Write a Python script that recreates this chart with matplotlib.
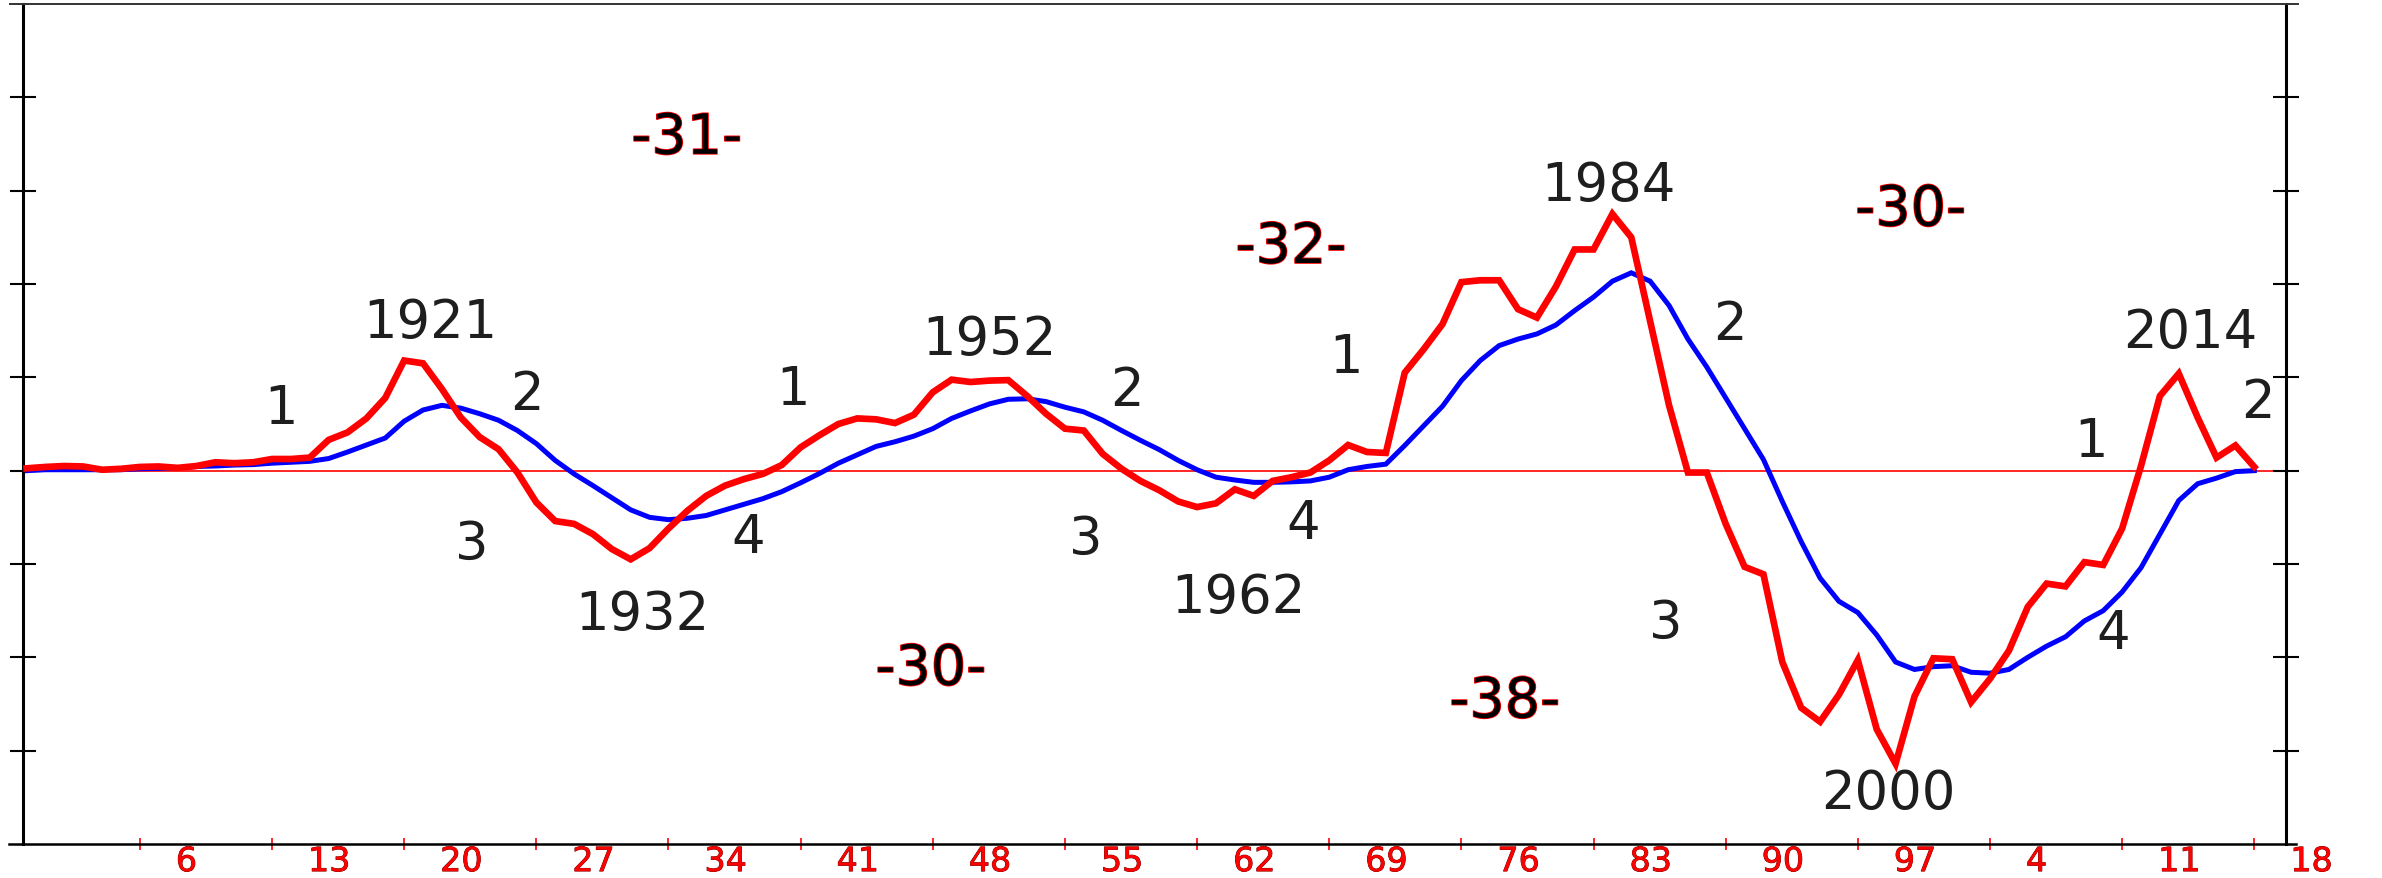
import matplotlib
matplotlib.use("Agg")
import matplotlib.pyplot as plt
import matplotlib.patheffects as pe
from matplotlib.transforms import ScaledTranslation
from matplotlib.lines import Line2D

years = list(range(1900, 2019))

red_series = [
    0.025, 0.04, 0.05, 0.045, 0.01, 0.02, 0.04, 0.045, 0.03, 0.05,      # 1900-1909
    0.09, 0.08, 0.09, 0.125, 0.125, 0.14, 0.33, 0.41, 0.56, 0.78,       # 1910-1919
    1.18, 1.15, 0.875, 0.57, 0.36, 0.23, -0.02, -0.34, -0.54, -0.57,    # 1920-1929
    -0.68, -0.84, -0.95, -0.83, -0.62, -0.43, -0.27, -0.16, -0.09, -0.035,  # 1930-1939
    0.06, 0.25, 0.38, 0.50, 0.56, 0.55, 0.51, 0.60, 0.84, 0.975,        # 1940-1949
    0.95, 0.965, 0.97, 0.80, 0.61, 0.45, 0.43, 0.18, 0.02, -0.11,       # 1950-1959
    -0.21, -0.33, -0.39, -0.35, -0.20, -0.27, -0.11, -0.07, -0.02, 0.11,  # 1960-1969
    0.275, 0.20, 0.19, 1.05, 1.30, 1.57, 2.02, 2.04, 2.04, 1.73,        # 1970-1979
    1.64, 1.97, 2.37, 2.37, 2.75, 2.50, 1.60, 0.70, -0.02, -0.02,       # 1980-1989
    -0.57, -1.03, -1.11, -2.05, -2.54, -2.69, -2.40, -2.03, -2.77, -3.14,  # 1990-1999
    -2.42, -2.01, -2.02, -2.48, -2.23, -1.93, -1.46, -1.21, -1.24, -0.98,  # 2000-2009
    -1.01, -0.62, 0.05, 0.80, 1.04, 0.57, 0.14, 0.27, 0.04,             # 2010-2018
]

blue_series = [
    0.0, 0.01, 0.01, 0.01, 0.01, 0.01, 0.02, 0.025, 0.03, 0.045,        # 1900-1909
    0.05, 0.06, 0.065, 0.08, 0.09, 0.10, 0.13, 0.20, 0.275, 0.35,       # 1910-1919
    0.53, 0.65, 0.70, 0.67, 0.61, 0.54, 0.43, 0.29, 0.11, -0.035,       # 1920-1929
    -0.16, -0.29, -0.42, -0.50, -0.525, -0.51, -0.48, -0.42, -0.36, -0.30,  # 1930-1939
    -0.225, -0.13, -0.03, 0.08, 0.17, 0.26, 0.31, 0.37, 0.45, 0.56,     # 1940-1949
    0.64, 0.715, 0.765, 0.77, 0.74, 0.68, 0.63, 0.54, 0.43, 0.325,      # 1950-1959
    0.225, 0.11, 0.01, -0.07, -0.10, -0.125, -0.125, -0.12, -0.11, -0.07,  # 1960-1969
    0.01, 0.045, 0.07, 0.27, 0.48, 0.69, 0.965, 1.18, 1.34, 1.41,       # 1970-1979
    1.465, 1.56, 1.715, 1.86, 2.03, 2.12, 2.03, 1.77, 1.41, 1.11,       # 1980-1989
    0.78, 0.45, 0.12, -0.33, -0.76, -1.15, -1.40, -1.52, -1.76, -2.05,  # 1990-1999
    -2.13, -2.10, -2.09, -2.16, -2.17, -2.13, -2.00, -1.88, -1.78, -1.61,  # 2000-2009
    -1.50, -1.30, -1.04, -0.68, -0.32, -0.14, -0.08, -0.01, 0.0,        # 2010-2018
]

tick_years = list(range(1906, 2019, 7))
tick_labels = [str(y % 100) for y in tick_years]
ytick_values = [-3, -2, -1, 0, 1, 2, 3, 4]

# black annotation labels: text, x (year), y
black_texts = ["1", "1921", "2", "3", "1932", "4",
               "1", "1952", "2", "3", "1962", "4",
               "1", "1984", "2", "3", "2000",
               "1", "4", "2014", "2"]
black_x = [1913.5, 1921.4, 1926.5, 1923.6, 1932.6, 1938.2,
           1940.6, 1951.0, 1958.3, 1956.1, 1964.2, 1967.6,
           1969.9, 1983.8, 1990.2, 1986.8, 1998.6,
           2009.35, 2010.5, 2014.6, 2018.2]
black_y = [0.73, 1.65, 0.875, -0.73, -1.48, -0.65,
           0.93, 1.475, 0.92, -0.67, -1.29, -0.50,
           1.28, 3.125, 1.625, -1.57, -3.39,
           0.38, -1.68, 1.54, 0.80]

# red-outlined period labels
period_texts = ["-31-", "-32-", "-30-", "-30-", "-38-"]
period_x = [1934.97, 1966.98, 1999.8, 1947.9, 1978.3]
period_y = [3.62, 2.45, 2.85, -2.07, -2.42]

W, H = 2382, 879
fig = plt.figure(figsize=(W / 100, H / 100), dpi=100)
ax = fig.add_axes([23 / W, (H - 845) / H, (2286 - 23) / W, 840 / H])
ax.set_xlim(1899.81, 2019.68)
ax.set_ylim(-4, 5)

ax.axhline(0, color="#ff0000", lw=1.2, zorder=1)
ax.plot(years, blue_series, color="#0000ff", lw=3.6, zorder=2, solid_joinstyle="miter")
ax.plot(years, red_series, color="#ff0000", lw=4.8, zorder=3, solid_joinstyle="miter")

# spines
for s in ["top", "bottom"]:
    ax.spines[s].set_visible(False)
for s in ["left", "right"]:
    ax.spines[s].set_linewidth(2.2)
    ax.spines[s].set_color("black")

fig.add_artist(Line2D([10 / W, 2298 / W], [(H - 5) / H, (H - 5) / H],
                      color="#333333", lw=1.4, transform=fig.transFigure))
fig.add_artist(Line2D([9 / W, 2296 / W], [(H - 844.5) / H, (H - 844.5) / H],
                      color="black", lw=1.8, transform=fig.transFigure))

ax.set_yticks(ytick_values)
ax.tick_params(axis="y", which="both", left=True, right=True, direction="inout",
               length=18.7, width=1.5, color="black", labelleft=False, labelright=False)

ax.set_xticks(tick_years)
ax.set_xticklabels(tick_labels)
ax.tick_params(axis="x", which="both", bottom=True, top=False, direction="inout",
               length=9, width=1.2, color="#ff0000", pad=-3.7,
               labelsize=24, labelcolor="#ff0000")
offset = ScaledTranslation(36 / 100, 0, fig.dpi_scale_trans)
for lab in ax.get_xticklabels():
    lab.set_transform(lab.get_transform() + offset)
    lab.set_horizontalalignment("left")
    lab.set_path_effects([pe.withStroke(linewidth=0.6, foreground="#700000")])

for t, x, y in zip(black_texts, black_x, black_y):
    ax.text(x, y, t, fontsize=38, color="#1e1e1e", ha="center", va="center_baseline",
            zorder=5)

for t, x, y in zip(period_texts, period_x, period_y):
    ax.text(x, y, t, fontsize=40, color="#000000", ha="center", va="center_baseline",
            zorder=5, path_effects=[pe.withStroke(linewidth=1.2, foreground="#ff0000")])

fig.savefig("out.png", dpi=100)
